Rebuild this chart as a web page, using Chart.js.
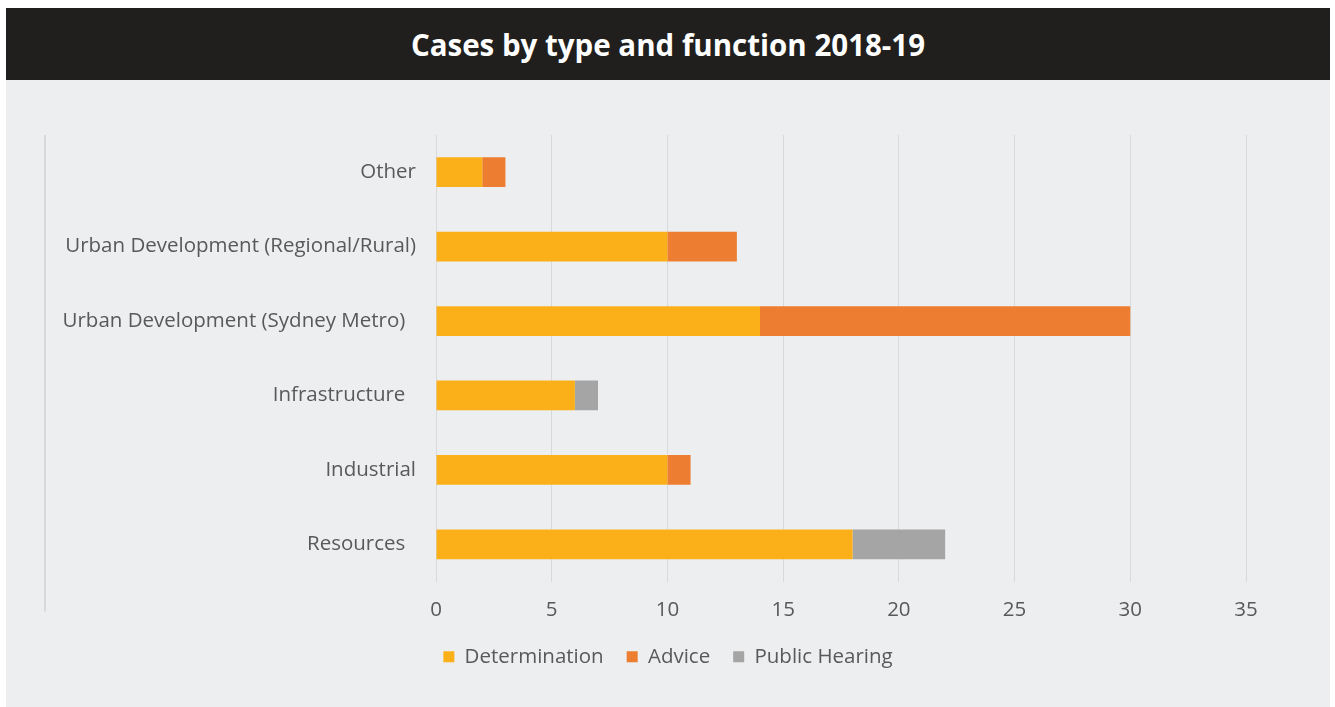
<!DOCTYPE html>
<html>
<head>
<meta charset="utf-8">
<script src="https://cdn.jsdelivr.net/npm/chart.js@4"></script>
<style>
  body { margin: 0; background: #ffffff; font-family: "Open Sans", sans-serif; }
  #title {
    position: absolute; left: 6px; top: 8px; width: 1324px; height: 72px;
    background: #201f1d; color: #ffffff; font-weight: bold; font-size: 29.5px;
    display: flex; align-items: center; justify-content: center;
  }
  #wrap { position: absolute; left: 6px; top: 80px; width: 1324px; height: 627px; background: #edeef0; }
</style>
</head>
<body>
<div id="title">Cases by type and function 2018-19</div>
<div id="wrap"><canvas id="casesChart"></canvas></div>
<script>
// Categories (trailing spaces kept as in the original labels)
const categories = ['Other', 'Urban Development (Regional/Rural)', 'Urban Development (Sydney Metro)  ', 'Infrastructure  ', 'Industrial', 'Resources  '];
const determination = [2, 10, 14, 6, 10, 18];
const advice = [1, 3, 16, 0, 1, 0];
const publicHearing = [0, 0, 0, 1, 0, 4];
const xTicks = [0, 5, 10, 15, 20, 25, 30, 35];

const tickFont = { family: 'Open Sans', size: 20.5 };

// Thin vertical rule at the left of the panel
const leftRule = {
  id: 'leftRule',
  beforeDraw(chart) {
    const ctx = chart.ctx;
    ctx.save();
    ctx.strokeStyle = '#d9d9d9';
    ctx.lineWidth = 2;
    ctx.beginPath();
    ctx.moveTo(39, chart.chartArea.top);
    ctx.lineTo(39, chart.chartArea.bottom + 30);
    ctx.stroke();
    ctx.restore();
  }
};

const config = {
  type: 'bar',
  data: {
    labels: categories,
    datasets: [
      { label: 'Determination', data: determination, backgroundColor: '#fbb01a' },
      { label: 'Advice', data: advice, backgroundColor: '#ed7d31' },
      { label: 'Public Hearing', data: publicHearing, backgroundColor: '#a5a5a5' }
    ]
  },
  options: {
    indexAxis: 'y',
    responsive: true,
    maintainAspectRatio: false,
    animation: false,
    layout: { padding: { top: 55, right: 0, left: 0, bottom: 30 } },
    datasets: { bar: { categoryPercentage: 0.8, barPercentage: 0.5 } },
    scales: {
      x: {
        stacked: true,
        min: 0,
        max: 35,
        afterBuildTicks(scale) { scale.ticks = xTicks.map(v => ({ value: v })); },
        afterFit(scale) { scale.height = 42; },
        grid: { color: '#d9d9d9', lineWidth: 1, drawTicks: false },
        border: { display: false },
        ticks: { color: '#595959', font: tickFont, padding: 16 }
      },
      y: {
        stacked: true,
        grid: { display: false, drawTicks: false },
        border: { display: false },
        afterFit(scale) { scale.width = 430; },
        ticks: { color: '#595959', font: tickFont, padding: 20 }
      },
      // empty right-hand spacer so the legend stays centred on the whole panel
      yRight: {
        type: 'category',
        axis: 'y',
        position: 'right',
        grid: { display: false, drawTicks: false },
        border: { display: false },
        ticks: { display: false },
        afterFit(scale) { scale.width = 84; }
      }
    },
    plugins: {
      legend: {
        position: 'bottom',
        labels: {
          color: '#595959',
          font: tickFont,
          boxWidth: 11,
          boxHeight: 11,
          padding: 23
        }
      },
      tooltip: { enabled: false }
    }
  },
  plugins: [leftRule]
};

window.addEventListener('load', () => {
  const ctx = document.getElementById('casesChart').getContext('2d');
  new Chart(ctx, config);
});
</script>
</body>
</html>
